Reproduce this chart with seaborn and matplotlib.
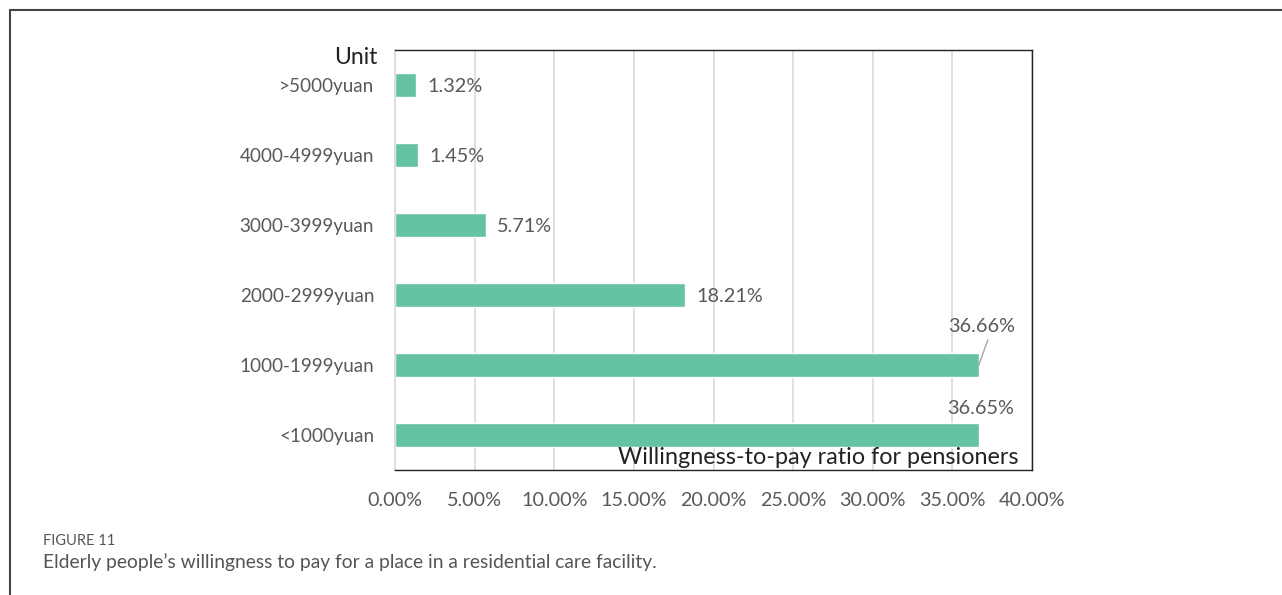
import matplotlib
matplotlib.use("Agg")
import matplotlib.pyplot as plt
from matplotlib.lines import Line2D
import seaborn as sns
import pandas as pd

categories = [">5000yuan", "4000-4999yuan", "3000-3999yuan", "2000-2999yuan", "1000-1999yuan", "<1000yuan"]
values = [1.32, 1.45, 5.71, 18.21, 36.66, 36.65]
value_labels = ["1.32%", "1.45%", "5.71%", "18.21%", "36.66%", "36.65%"]
x_ticks = [0, 5, 10, 15, 20, 25, 30, 35, 40]
x_tick_labels = ["0.00%", "5.00%", "10.00%", "15.00%", "20.00%", "25.00%", "30.00%", "35.00%", "40.00%"]

sns.set_theme(style="white")
plt.rcParams["font.family"] = ["Lato", "DejaVu Sans"]

df = pd.DataFrame({"cat": categories, "val": values})

fig = plt.figure(figsize=(12.82, 5.95), dpi=100)
ax = fig.add_axes([395/1282, 1 - 470/595, (1032-395)/1282, (470-50)/595])

sns.barplot(data=df, x="val", y="cat", order=categories, color="#66c2a5",
            saturation=1, width=0.34, ax=ax)

ax.set_xlim(0, 40)
ax.set_ylim(5.5, -0.5)
ax.set_xticks(x_ticks)
ax.set_xticklabels(x_tick_labels, fontsize=14.2, color="#595959")
ax.tick_params(axis="y", labelsize=13.6, labelcolor="#595959", pad=15, length=0)
ax.tick_params(axis="x", pad=16, length=0)
ax.set_xlabel("")
ax.set_ylabel("")
ax.grid(axis="x", color="#d9d9d9", lw=1.2)
ax.set_axisbelow(True)
for s in ["top", "right", "bottom"]:
    ax.spines[s].set_visible(True)
    ax.spines[s].set_color("#222222")
    ax.spines[s].set_linewidth(1.0)
ax.spines["left"].set_color("#d9d9d9")
ax.spines["left"].set_linewidth(1.2)

lab_fs = 14.3
for i, (v, lab) in enumerate(zip(values, value_labels)):
    if i < 4:
        ax.annotate(lab, (v, i), xytext=(11, -1), textcoords="offset pixels",
                    ha="left", va="center", fontsize=lab_fs, color="#595959")
    elif i == 4:
        ax.annotate(lab, (v, i), xytext=(3, 39), textcoords="offset pixels",
                    ha="center", va="center", fontsize=lab_fs, color="#595959")
        ax.annotate("", (v, i), xytext=(9, 25), textcoords="offset pixels",
                    arrowprops=dict(arrowstyle="-", color="#a6a6a6", lw=1, shrinkA=0, shrinkB=0))
    else:
        ax.annotate(lab, (v, i), xytext=(2, 26), textcoords="offset pixels",
                    ha="center", va="center", fontsize=lab_fs, color="#595959")

fig.text(378/1282, 1 - 57/595, "Unit", ha="right", va="center", fontsize=16.5, color="#222222")
fig.text(1019/1282, 1 - 458/595, "Willingness-to-pay ratio for pensioners",
         ha="right", va="center", fontsize=16.8, color="#222222")

fig.text(43/1282, 1 - 541/595, "FIGURE 11", ha="left", va="center", fontsize=10.5, color="#555555")
fig.text(43/1282, 1 - 562/595, "Elderly people\u2019s willingness to pay for a place in a residential care facility.",
         ha="left", va="center", fontsize=13.9, color="#555555")

fig.add_artist(Line2D([10/1282, 1.0], [1 - 10/595, 1 - 10/595], color="#444444", lw=1.5))
fig.add_artist(Line2D([10/1282, 10/1282], [0, 1 - 10/595], color="#444444", lw=1.5))

fig.savefig("out.png", dpi=100)
